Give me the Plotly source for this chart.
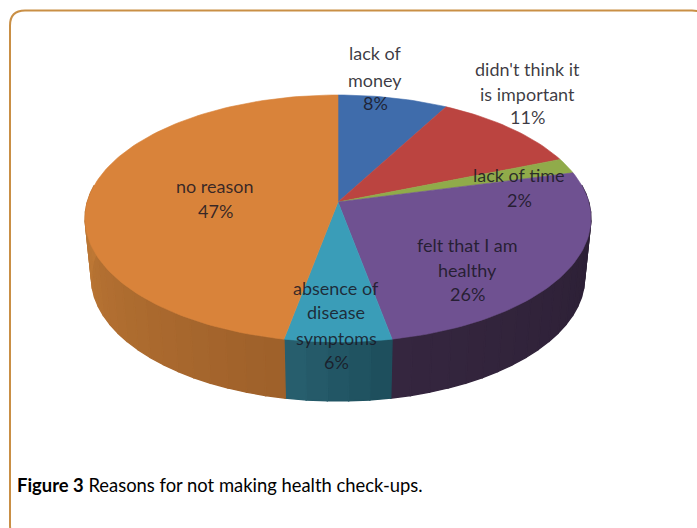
import math
import plotly.graph_objects as go

# --- data ---
categories = ["lack of money", "didn't think it is important", "lack of time",
              "felt that I am healthy", "absence of disease symptoms", "no reason"]
values = [8, 11, 2, 26, 6, 47]
top_colors = ["#3f6cab", "#bb4440", "#90ab4a", "#6f5191", "#3a9db8", "#d9833a"]
wall_left_colors = ["#2c4a75", "#803230", "#617433", "#35263f", "#28606f", "#c07a36"]
wall_right_colors = ["#2c4a75", "#803230", "#617433", "#2a1e33", "#1d4d5b", "#9e602a"]
label_lines = [["lack of", "money", "8%"],
               ["didn't think it", "is important", "11%"],
               ["lack of time", "2%"],
               ["felt that I am", "healthy", "26%"],
               ["absence of", "disease", "symptoms", "6%"],
               ["no reason", "47%"]]
caption_bold = "Figure 3"
caption_rest = " Reasons for not making health check-ups."

# --- layout of the projected pie (pixels) ---
W, H = 697, 528
CX, CY = 338, 202
A, B, K = 250.7, 121.3, 0.1336
DEPTH, BOTTOM_SCALE = 59, 0.975
label_x = [375, 527, 519, 467, 336, 215]
label_y = [[53, 80, 103], [69, 94, 117], [175, 200], [245, 270, 294],
           [288, 312, 338, 362], [186, 211]]
FONT = "Lato, 'Open Sans', sans-serif"
BORDER = "#c98f45"


def rim(theta, bottom=False):
    s, c = math.sin(theta), math.cos(theta)
    d = 1 + K * c
    x, y = A * s / d, B * c / d
    if bottom:
        return CX + x * BOTTOM_SCALE, CY - y + DEPTH
    return CX + x, CY - y


def lerp_color(c1, c2, t):
    a = [int(c1[i:i + 2], 16) for i in (1, 3, 5)]
    b = [int(c2[i:i + 2], 16) for i in (1, 3, 5)]
    return "#%02x%02x%02x" % tuple(round(p + (q - p) * t) for p, q in zip(a, b))


def poly(xs, ys, color, name, lw=0.6):
    return go.Scatter(x=xs, y=ys, mode="lines", fill="toself", fillcolor=color,
                      line=dict(color=color, width=lw), hoverinfo="text",
                      text=name, showlegend=False)


fig = go.Figure()
total = sum(values)
bounds = [0.0]
for v in values:
    bounds.append(bounds[-1] + v / total * 2 * math.pi)

# side walls (front part of the rim only)
wall_start, wall_end = math.radians(82), math.radians(278)
for i, name in enumerate(categories):
    t0, t1 = max(bounds[i], wall_start), min(bounds[i + 1], wall_end)
    if t1 <= t0:
        continue
    n = max(1, int((t1 - t0) / math.radians(4)))
    for j in range(n):
        a0 = t0 + (t1 - t0) * j / n
        a1 = t0 + (t1 - t0) * (j + 1) / n
        pts_top = [rim(a0 + (a1 - a0) * q / 4) for q in range(5)]
        pts_bot = [rim(a1 - (a1 - a0) * q / 4, True) for q in range(5)]
        xs = [p[0] for p in pts_top + pts_bot] + [pts_top[0][0]]
        ys = [p[1] for p in pts_top + pts_bot] + [pts_top[0][1]]
        color = lerp_color(wall_right_colors[i], wall_left_colors[i], (j + 0.5) / n)
        fig.add_trace(poly(xs, ys, color, name, lw=1.4))

# top faces
for i, name in enumerate(categories):
    t0, t1 = bounds[i], bounds[i + 1]
    n = max(6, int((t1 - t0) / math.radians(1.5)))
    pts = [rim(t0 + (t1 - t0) * j / n) for j in range(n + 1)]
    xs = [CX] + [p[0] for p in pts] + [CX]
    ys = [CY] + [p[1] for p in pts] + [CY]
    fig.add_trace(poly(xs, ys, top_colors[i], f"{name}: {values[i]}%"))

# labels, one annotation per printed line
annotations = []
for lines, x, ys in zip(label_lines, label_x, label_y):
    for line, y in zip(lines, ys):
        annotations.append(dict(x=x, y=y, text=line, showarrow=False, xanchor="center",
                                yanchor="middle",
                                font=dict(family=FONT, size=18, color="rgba(25,22,35,0.85)")))
annotations.append(dict(x=15, y=485, xanchor="left", yanchor="middle", showarrow=False,
                        text=f"<b>{caption_bold}</b>{caption_rest}",
                        font=dict(family=FONT, size=18.4, color="#000000")))

R = 15
x0, y0, x1, y1 = 10, 10.5, 707, 540
border_path = (f"M {x0} {y1 - R} L {x0} {y0 + R} Q {x0} {y0} {x0 + R} {y0} "
               f"L {x1 - R} {y0} Q {x1} {y0} {x1} {y0 + R} L {x1} {y1 - R} "
               f"Q {x1} {y1} {x1 - R} {y1} L {x0 + R} {y1} Q {x0} {y1} {x0} {y1 - R} Z")

fig.update_layout(
    width=W, height=H, margin=dict(l=0, r=0, t=0, b=0),
    paper_bgcolor="white", plot_bgcolor="white", showlegend=False,
    xaxis=dict(range=[0, W], visible=False, fixedrange=True),
    yaxis=dict(range=[H, 0], visible=False, fixedrange=True),
    annotations=annotations,
    shapes=[dict(type="path", path=border_path, line=dict(color=BORDER, width=2), layer="below")],
)
fig.write_html("out.html", config={"displayModeBar": False},
               post_script="document.documentElement.style.overflow='hidden';document.body.style.margin='0';")
